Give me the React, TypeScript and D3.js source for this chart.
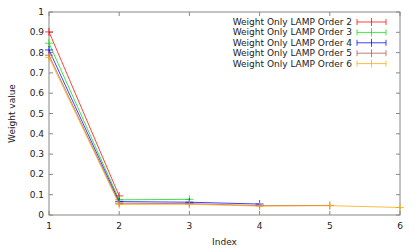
import React from "react";
import * as d3 from "d3";

const xTicks = [1, 2, 3, 4, 5, 6];
const yTicks = [0, 0.1, 0.2, 0.3, 0.4, 0.5, 0.6, 0.7, 0.8, 0.9, 1];
const yTickLabels = ["0", "0.1", "0.2", "0.3", "0.4", "0.5", "0.6", "0.7", "0.8", "0.9", "1"];

const order2 = [0.902, 0.094];
const order3 = [0.846, 0.075, 0.077];
const order4 = [0.813, 0.066, 0.063, 0.054];
const order5 = [0.787, 0.058, 0.056, 0.046, 0.047];
const order6 = [0.776, 0.052, 0.053, 0.044, 0.046, 0.037];

const seriesNames = [
  "Weight Only LAMP Order 2",
  "Weight Only LAMP Order 3",
  "Weight Only LAMP Order 4",
  "Weight Only LAMP Order 5",
  "Weight Only LAMP Order 6",
];
const seriesValues = [order2, order3, order4, order5, order6];
const colors = ["#ff0000", "#00e000", "#0000ff", "#b05050", "#ffa500"];

export default function App() {
  const width = 415;
  const height = 249;
  const margin = { top: 12, left: 49, bottom: 34, right: 15 };
  const iw = width - margin.left - margin.right;
  const ih = height - margin.top - margin.bottom;

  const x = d3.scaleLinear().domain([1, 6]).range([0, iw]);
  const y = d3.scaleLinear().domain([0, 1]).range([ih, 0]);
  const line = d3
    .line<number>()
    .x((_, i) => x(i + 1))
    .y((d) => y(d));

  const font = "DejaVu Sans, sans-serif";
  const axisColor = "#888";

  return (
    <svg
      width={width}
      height={height}
      style={{ position: "absolute", left: 0, top: 0, background: "#fff" }}
      fontFamily={font}
      fontSize={9}
    >
      <g transform={`translate(${margin.left},${margin.top})`}>
        {xTicks.map((t) => (
          <g key={"x" + t}>
            <line x1={x(t)} x2={x(t)} y1={ih} y2={ih - 4} stroke={axisColor} />
            <line x1={x(t)} x2={x(t)} y1={0} y2={4} stroke={axisColor} />
            <text x={x(t)} y={ih + 14} textAnchor="middle" fill="#222">
              {t}
            </text>
          </g>
        ))}
        {yTicks.map((t, i) => (
          <g key={"y" + t}>
            <line x1={0} x2={4} y1={y(t)} y2={y(t)} stroke={axisColor} />
            <line x1={iw} x2={iw - 4} y1={y(t)} y2={y(t)} stroke={axisColor} />
            <text x={-5} y={y(t) + 3} textAnchor="end" fill="#222">
              {yTickLabels[i]}
            </text>
          </g>
        ))}
        <rect x={0} y={0} width={iw} height={ih} fill="none" stroke={axisColor} />

        {seriesValues.map((vals, si) => (
          <g key={"s" + si} stroke={colors[si]} fill="none" strokeOpacity={0.75}>
            <path d={line(vals) || ""} strokeWidth={1} />
            {vals.map((v, i) => (
              <g key={i}>
                <line x1={x(i + 1) - 4} x2={x(i + 1) + 4} y1={y(v)} y2={y(v)} />
                <line x1={x(i + 1)} x2={x(i + 1)} y1={y(v) - 4} y2={y(v) + 4} />
              </g>
            ))}
          </g>
        ))}

        {seriesNames.map((name, si) => {
          const ly = 10 + si * 10.4;
          const lx0 = 308;
          const lx1 = 337;
          return (
            <g key={"l" + si}>
              <text x={303} y={ly + 3} textAnchor="end" fill="#222">
                {name}
              </text>
              <g stroke={colors[si]} strokeOpacity={0.75}>
                <line x1={lx0} x2={lx1} y1={ly} y2={ly} />
                <line x1={lx0} x2={lx0} y1={ly - 3} y2={ly + 3} />
                <line x1={lx1} x2={lx1} y1={ly - 3} y2={ly + 3} />
                <line x1={(lx0 + lx1) / 2} x2={(lx0 + lx1) / 2} y1={ly - 4} y2={ly + 4} />
              </g>
            </g>
          );
        })}
      </g>
      <text x={margin.left + iw / 2} y={245} textAnchor="middle" fill="#222">
        Index
      </text>
      <text
        transform={`translate(15,${margin.top + ih / 2}) rotate(-90)`}
        textAnchor="middle"
        fill="#222"
      >
        Weight value
      </text>
    </svg>
  );
}
